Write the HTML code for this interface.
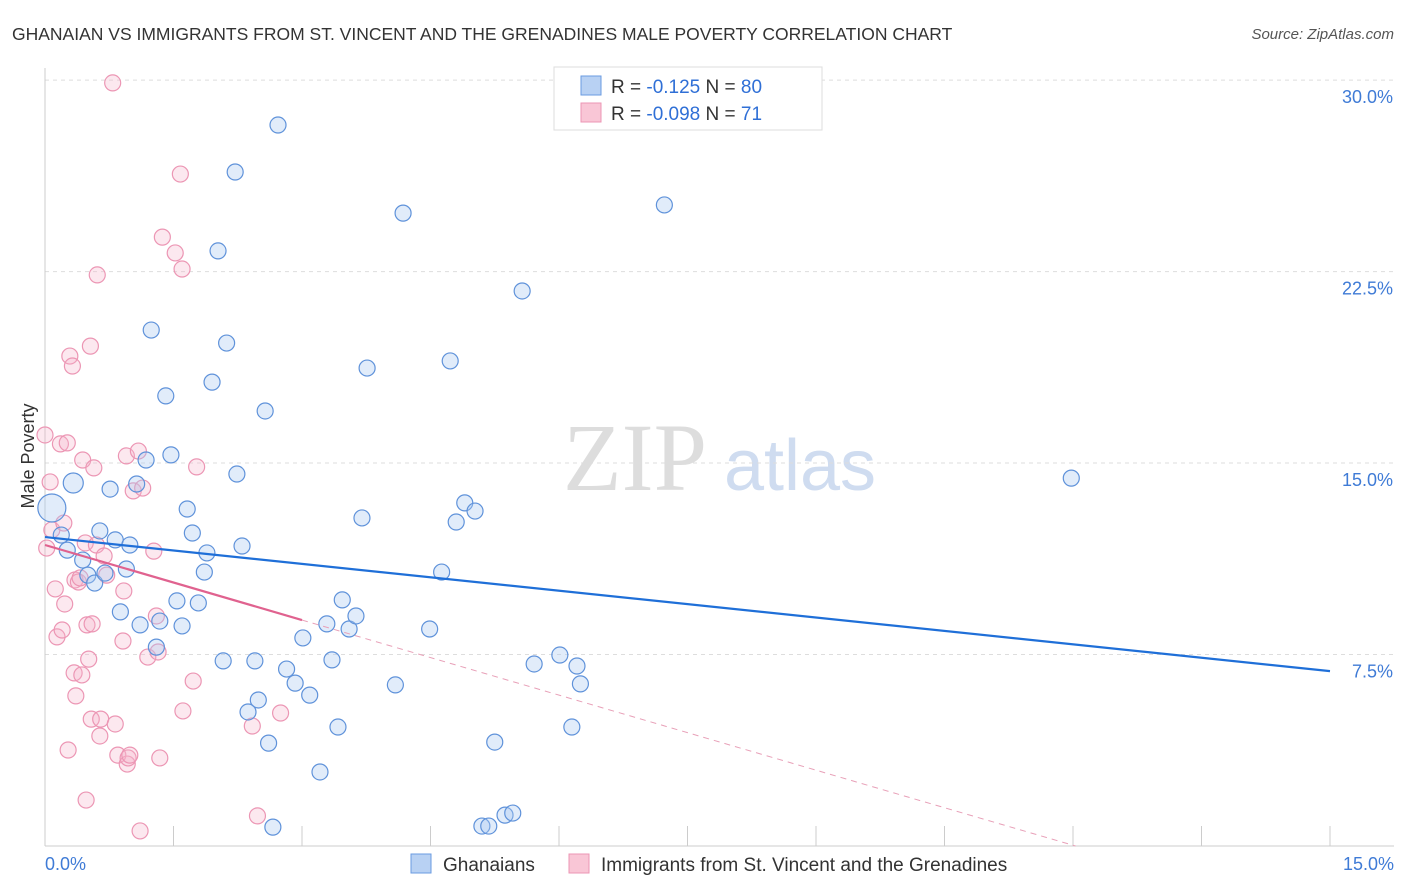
<!DOCTYPE html>
<html><head><meta charset="utf-8">
<style>
body{margin:0;background:#fff;font-family:"Liberation Sans",sans-serif;}
#wrap{position:relative;width:1406px;height:892px;overflow:hidden;}
</style></head>
<body>
<div id="wrap">
<svg id="svg" width="1406" height="892" xmlns="http://www.w3.org/2000/svg">
<text x="12" y="40" font-size="17.5" fill="#333">GHANAIAN VS IMMIGRANTS FROM ST. VINCENT AND THE GRENADINES MALE POVERTY CORRELATION CHART</text>
<text x="1394" y="39" font-size="15" fill="#555" font-style="italic" text-anchor="end">Source: ZipAtlas.com</text>
<g>
<text x="635" y="490" font-size="96" fill="#ddd" font-family="Liberation Serif,serif" text-anchor="middle">ZIP</text>
<text x="800" y="490" font-size="72" fill="#cfdcf0" text-anchor="middle">atlas</text>
</g>
<g id="grid"></g>
<g id="axes"></g>
<g id="pts"></g>
<g id="trend"></g>
<text transform="translate(34,456) rotate(-90)" font-size="18" fill="#333" text-anchor="middle">Male Poverty</text>
<g>
<rect x="554" y="67" width="268" height="63" fill="#fff" stroke="#ddd"/>
<rect x="581" y="76" width="20" height="19" fill="#b8d1f3" stroke="#6a9be0"/>
<rect x="581" y="103" width="20" height="19" fill="#f9c6d6" stroke="#ec96b4"/>
<text x="611" y="93" font-size="19" fill="#333">R =  <tspan fill="#2f6fd6">-0.125</tspan>   N = <tspan fill="#2f6fd6">80</tspan></text>
<text x="611" y="120" font-size="19" fill="#333">R = <tspan fill="#2f6fd6">-0.098</tspan>   N =  <tspan fill="#2f6fd6">71</tspan></text>
</g>
<g>
<rect x="411" y="854" width="20" height="19" fill="#b8d1f3" stroke="#6a9be0"/>
<text x="443" y="871" font-size="19" fill="#333">Ghanaians</text>
<rect x="569" y="854" width="20" height="19" fill="#f9c6d6" stroke="#ec96b4"/>
<text x="601" y="871" font-size="19" fill="#333">Immigrants from St. Vincent and the Grenadines</text>
</g>
</svg>
</div>
<script>
const blueX=[.08,.33,.19,.26,.44,.50,.58,.64,.70,.76,.82,.88,.95,.99,1.07,1.11,1.18,1.24,1.30,1.34,1.41,1.47,1.54,1.60,1.66,1.72,1.79,1.86,1.89,1.95,2.02,2.08,2.12,2.22,2.24,2.30,2.37,2.45,2.49,2.57,2.61,2.66,2.72,2.82,2.92,3.01,3.09,3.21,3.29,3.35,3.42,3.47,3.55,3.63,3.70,3.76,4.09,4.18,4.49,4.63,4.73,4.80,4.90,5.02,5.10,5.18,5.25,5.37,5.46,5.57,5.71,6.01,6.15,6.21,6.25,7.23,11.98];
const blueY=[13.24,14.22,12.18,11.59,11.20,10.61,10.30,12.34,10.69,13.98,11.99,9.17,10.85,11.79,14.18,8.66,15.12,20.21,7.79,8.81,17.63,15.32,9.60,8.62,13.20,12.26,9.52,10.73,11.48,18.17,23.31,7.25,19.70,26.40,14.57,11.75,5.25,7.25,5.72,17.04,4.03,.74,28.24,6.93,6.38,8.15,5.91,2.90,8.70,7.29,4.66,9.64,8.50,9.01,12.85,18.72,6.31,24.79,8.50,10.73,19.00,12.69,13.44,13.12,.78,.78,4.07,1.21,1.29,21.74,7.13,7.48,4.66,7.05,6.35,25.11,14.41];
const pinkX=[0,.06,.02,.08,.12,.14,.18,.20,.22,.23,.26,.27,.29,.32,.34,.35,.36,.39,.41,.43,.44,.47,.48,.49,.51,.53,.54,.55,.57,.60,.61,.64,.65,.69,.72,.79,.82,.85,.91,.92,.95,.96,.97,.99,1.03,1.09,1.11,1.14,1.20,1.27,1.30,1.32,1.34,1.37,1.52,1.58,1.60,1.61,1.73,1.77,2.42,2.48,2.75];
const pinkY=[16.10,14.26,11.67,12.38,10.07,8.19,15.75,8.46,12.65,9.48,15.79,3.76,19.19,18.80,6.78,10.42,5.88,10.34,10.50,6.70,15.12,11.87,1.80,8.66,7.32,19.58,4.97,8.70,14.81,11.79,22.37,4.31,4.97,11.36,10.61,29.89,4.78,3.56,8.03,9.99,15.28,3.21,3.45,3.56,13.91,15.47,.59,14.02,7.40,11.55,9.01,7.60,3.45,23.85,23.23,26.32,22.60,5.29,6.46,14.85,4.70,1.18,5.21];
const yTicks=[7.5,15,22.5,30];
const yTickLabels=["7.5%","15.0%","22.5%","30.0%"];
const xTicks=[0,1.5,3,4.5,6,7.5,9,10.5,12,13.5,15];
const blueTrend=[12.10,6.85];
const pinkTrend=[11.79,-0.98];
const pinkSolidEnd=3.0;

const NS="http://www.w3.org/2000/svg";
const X=v=>45+v*(1285/15);
const Y=v=>846-v*25.53;
function mk(tag,attrs,parent){const e=document.createElementNS(NS,tag);for(const k in attrs)e.setAttribute(k,attrs[k]);document.getElementById(parent).appendChild(e);return e;}

yTicks.forEach((t,i)=>{
  const l=mk('line',{x1:45,x2:1394,y1:Y(t),y2:Y(t),stroke:'#ddd','stroke-dasharray':'4,4'},'grid');
  
  
  const tx=mk('text',{x:1393,y:Y(t)+23,'font-size':18,fill:'#3f7bd6','text-anchor':'end'},'grid');
  tx.textContent=yTickLabels[i];
  
  
});
const ax=mk('line',{x1:45,x2:1394,y1:846,y2:846,stroke:'#ccc'},'axes');


const ay=mk('line',{x1:45,x2:45,y1:68,y2:846,stroke:'#ccc'},'axes');


xTicks.forEach(t=>{
  const l=mk('line',{x1:X(t),x2:X(t),y1:826,y2:846,stroke:'#ccc'},'axes');
  
  
});
const xl0=mk('text',{x:45,y:870,'font-size':18,fill:'#3f7bd6'},'axes');xl0.textContent='0.0%';


const xl1=mk('text',{x:1394,y:870,'font-size':18,fill:'#3f7bd6','text-anchor':'end'},'axes');xl1.textContent='15.0%';



pinkX.forEach((x,i)=>{
  const c=mk('circle',{cx:X(x),cy:Y(pinkY[i]),r:8,fill:'rgba(246,178,201,0.3)',stroke:'#ec96b4','stroke-width':1.2},'pts');
  
  
});
blueX.forEach((x,i)=>{
  const r=i===0?14:(i===1?10:8);
  const c=mk('circle',{cx:X(x),cy:Y(blueY[i]),r:r,fill:'rgba(170,200,240,0.35)',stroke:'#5f92da','stroke-width':1.2},'pts');
  
  
});
const bt=mk('line',{x1:X(0),y1:Y(blueTrend[0]),x2:X(15),y2:Y(blueTrend[1]),stroke:'#1f6fd8','stroke-width':2.2},'trend');


const pyAt=x=>pinkTrend[0]+pinkTrend[1]*x;
const pxEnd=-pinkTrend[0]/pinkTrend[1];
const pd=mk('line',{x1:X(pinkSolidEnd),y1:Y(pyAt(pinkSolidEnd)),x2:X(pxEnd),y2:Y(0),stroke:'#e8a0b8','stroke-width':1,'stroke-dasharray':'6,5'},'trend');


const ps=mk('line',{x1:X(0),y1:Y(pyAt(0)),x2:X(pinkSolidEnd),y2:Y(pyAt(pinkSolidEnd)),stroke:'#e0628f','stroke-width':2.2},'trend');


</script>
</body></html>
